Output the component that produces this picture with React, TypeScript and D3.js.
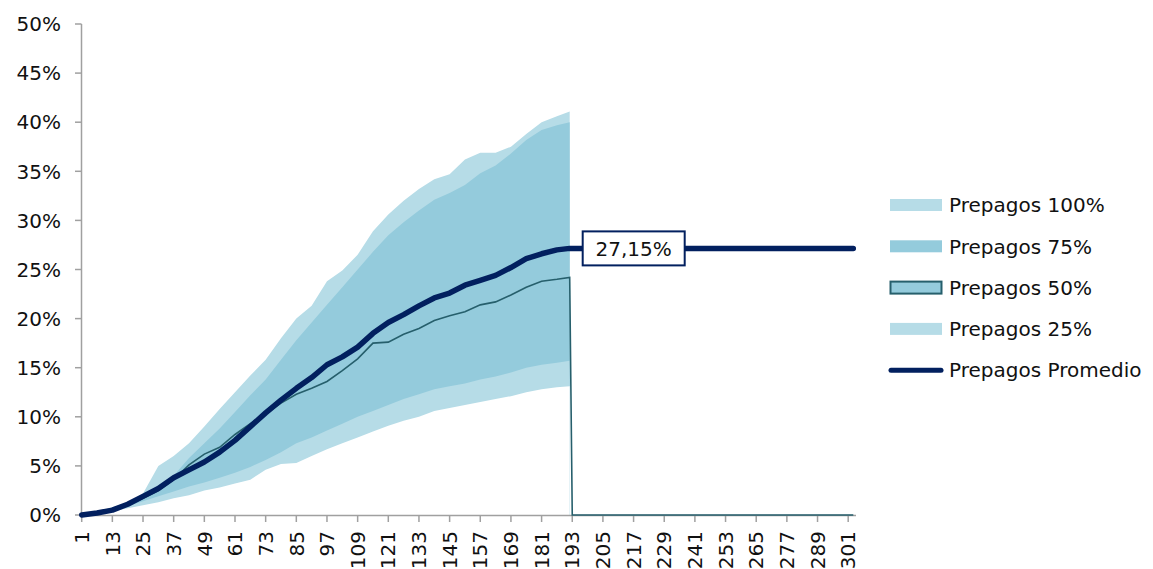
import { useRef, useEffect } from 'react';
import * as d3 from 'd3';

// sampled categories (months) where values were read
const categories = [1, 7, 13, 19, 25, 31, 37, 43, 49, 55, 61, 67, 73, 79, 85, 91, 97, 103, 109, 115, 121, 127, 133, 139, 145, 151, 157, 163, 169, 175, 181, 187, 192];

// values in %
const prepagos100 = [0, 0.3, 0.8, 1.3, 2.2, 5.0, 6.0, 7.3, 9.0, 10.8, 12.5, 14.2, 15.8, 18.0, 20.0, 21.3, 23.8, 24.9, 26.5, 28.9, 30.6, 32.0, 33.2, 34.2, 34.7, 36.2, 36.9, 36.9, 37.5, 38.8, 40.0, 40.6, 41.1];
const prepagos75 = [0, 0.2, 0.6, 1.1, 1.9, 2.8, 4.0, 5.8, 7.3, 8.8, 10.5, 12.2, 13.8, 15.8, 17.8, 19.6, 21.4, 23.2, 25.0, 26.8, 28.5, 29.8, 31.0, 32.1, 32.8, 33.6, 34.8, 35.6, 36.8, 38.2, 39.2, 39.7, 40.0];
const prepagos50 = [0, 0.2, 0.5, 1.0, 1.7, 2.5, 3.6, 5.1, 6.2, 6.9, 8.2, 9.3, 10.3, 11.4, 12.3, 12.9, 13.6, 14.7, 15.9, 17.5, 17.6, 18.4, 19.0, 19.8, 20.3, 20.7, 21.4, 21.7, 22.4, 23.2, 23.8, 24.0, 24.2];
const prepagos25 = [0, 0.15, 0.5, 0.9, 1.4, 1.9, 2.4, 2.9, 3.3, 3.8, 4.3, 4.9, 5.6, 6.4, 7.3, 7.9, 8.6, 9.3, 10.0, 10.6, 11.2, 11.8, 12.3, 12.8, 13.1, 13.4, 13.8, 14.1, 14.5, 15.0, 15.3, 15.5, 15.7];
// lower edge of the 25% band (hidden white series)
const prepagosMin = [0, 0.1, 0.4, 0.7, 1.0, 1.3, 1.7, 2.0, 2.5, 2.8, 3.2, 3.6, 4.6, 5.2, 5.3, 6.0, 6.7, 7.3, 7.9, 8.5, 9.1, 9.6, 10.0, 10.6, 10.9, 11.2, 11.5, 11.8, 12.1, 12.5, 12.8, 13.0, 13.1];
const prepagosPromedio = [0, 0.2, 0.5, 1.1, 1.9, 2.7, 3.8, 4.6, 5.4, 6.4, 7.6, 9.0, 10.4, 11.7, 12.9, 14.0, 15.3, 16.1, 17.1, 18.5, 19.6, 20.4, 21.3, 22.1, 22.6, 23.4, 23.9, 24.4, 25.2, 26.1, 26.6, 27.0, 27.15];

const lastCategory = 303;
const promedioFinal = 27.15;
const promedioLabel = '27,15%';

const xTicks = [1, 13, 25, 37, 49, 61, 73, 85, 97, 109, 121, 133, 145, 157, 169, 181, 193, 205, 217, 229, 241, 253, 265, 277, 289, 301];
const yTicks = [0, 5, 10, 15, 20, 25, 30, 35, 40, 45, 50];

const legendNames = ['Prepagos 100%', 'Prepagos 75%', 'Prepagos 50%', 'Prepagos 25%', 'Prepagos Promedio'];

const LIGHT = '#b6dce7';
const MEDIUM = '#94cbdc';
const TEAL = '#265f6c';
const NAVY = '#02205f';
const AXIS = '#a0a0a0';
const FONT = '"DejaVu Sans", Verdana, sans-serif';
const FONT_SIZE = '20px';

function Chart() {
    const ref = useRef<SVGSVGElement>(null);

    useEffect(() => {
        const svg = d3.select(ref.current);
        svg.selectAll('*').remove();

        const x = d3.scaleLinear().domain([1, lastCategory]).range([81.7, 853.3]);
        const y = d3.scaleLinear().domain([0, 50]).range([515, 24]);

        const area = (vals: number[]) =>
            d3.area<number>()
                .x((d, i) => x(categories[i]))
                .y0(y(0))
                .y1(d => y(d))(vals);

        svg.append('path').attr('d', area(prepagos100)).attr('fill', LIGHT);
        svg.append('path').attr('d', area(prepagos75)).attr('fill', MEDIUM);
        svg.append('path').attr('d', area(prepagos50)).attr('fill', MEDIUM);
        svg.append('path').attr('d', area(prepagos25)).attr('fill', LIGHT);
        svg.append('path').attr('d', area(prepagosMin)).attr('fill', 'white');

        // y axis
        const yAxis = svg.append('g');
        yAxis.append('line')
            .attr('x1', 81.5).attr('x2', 81.5)
            .attr('y1', y(50)).attr('y2', y(0))
            .attr('stroke', AXIS).attr('stroke-width', 1.5);
        yAxis.selectAll('.tick')
            .data(yTicks)
            .enter()
            .append('line')
            .attr('x1', 75).attr('x2', 81.5)
            .attr('y1', d => y(d)).attr('y2', d => y(d))
            .attr('stroke', AXIS).attr('stroke-width', 1.5);
        yAxis.selectAll('text')
            .data(yTicks)
            .enter()
            .append('text')
            .attr('x', 61)
            .attr('y', d => y(d))
            .attr('dy', '0.36em')
            .attr('text-anchor', 'end')
            .style('font-family', FONT)
            .style('font-size', FONT_SIZE)
            .style('fill', '#111')
            .text(d => `${d}%`);

        // x axis
        const xAxis = svg.append('g');
        xAxis.append('line')
            .attr('x1', 81).attr('x2', 856)
            .attr('y1', 515.5).attr('y2', 515.5)
            .attr('stroke', AXIS).attr('stroke-width', 1.5);
        xAxis.selectAll('.tick')
            .data(xTicks)
            .enter()
            .append('line')
            .attr('x1', d => x(d)).attr('x2', d => x(d))
            .attr('y1', 515.5).attr('y2', 522)
            .attr('stroke', AXIS).attr('stroke-width', 1.5);
        xAxis.selectAll('text')
            .data(xTicks)
            .enter()
            .append('text')
            .attr('transform', d => `translate(${x(d)}, 531) rotate(-90)`)
            .attr('dy', '0.36em')
            .attr('text-anchor', 'end')
            .style('font-family', FONT)
            .style('font-size', FONT_SIZE)
            .style('fill', '#111')
            .text(d => d);

        // 50% border line, dropping to zero after the last month
        const line = d3.line<[number, number]>().x(d => x(d[0])).y(d => y(d[1]));
        const p50Points: [number, number][] = categories.map((c, i) => [c, prepagos50[i]]);
        p50Points.push([categories[categories.length - 1] + 1, 0], [lastCategory, 0]);
        svg.append('path')
            .attr('d', line(p50Points))
            .attr('fill', 'none')
            .attr('stroke', TEAL)
            .attr('stroke-width', 1.6);

        const promPoints: [number, number][] = categories.map((c, i) => [c, prepagosPromedio[i]]);
        promPoints.push([lastCategory, promedioFinal]);
        svg.append('path')
            .attr('d', line(promPoints))
            .attr('fill', 'none')
            .attr('stroke', NAVY)
            .attr('stroke-width', 5.5)
            .attr('stroke-linecap', 'round')
            .attr('stroke-linejoin', 'round');

        // data label
        const lx = x(categories[categories.length - 1]) + 13;
        const ly = y(promedioFinal);
        svg.append('rect')
            .attr('x', lx).attr('y', ly - 17)
            .attr('width', 102).attr('height', 34)
            .attr('fill', 'white')
            .attr('stroke', NAVY)
            .attr('stroke-width', 2);
        svg.append('text')
            .attr('x', lx + 51).attr('y', ly)
            .attr('dy', '0.36em')
            .attr('text-anchor', 'middle')
            .style('font-family', FONT)
            .style('font-size', FONT_SIZE)
            .style('fill', '#111')
            .text(promedioLabel);

        // legend
        const legend = svg.append('g').attr('transform', 'translate(890, 205)');
        legendNames.forEach((name, i) => {
            const g = legend.append('g').attr('transform', `translate(0, ${i * 41.3})`);
            if (i === 4) {
                g.append('line')
                    .attr('x1', 1).attr('x2', 51).attr('y1', 0).attr('y2', 0)
                    .attr('stroke', NAVY).attr('stroke-width', 5).attr('stroke-linecap', 'round');
            } else if (i === 2) {
                g.append('rect')
                    .attr('x', 0.5).attr('y', -6).attr('width', 51).attr('height', 12)
                    .attr('fill', MEDIUM).attr('stroke', TEAL).attr('stroke-width', 2);
            } else {
                g.append('rect')
                    .attr('x', 0).attr('y', -6).attr('width', 52).attr('height', 12)
                    .attr('fill', i === 1 ? MEDIUM : LIGHT);
            }
            g.append('text')
                .attr('x', 59).attr('y', 0)
                .attr('dy', '0.36em')
                .style('font-family', FONT)
                .style('font-size', FONT_SIZE)
                .style('fill', '#111')
                .text(name);
        });
    }, []);

    return (
        <svg
            ref={ref}
            width={1153}
            height={569}
            style={{ position: 'absolute', left: 0, top: 0, display: 'block', background: 'white' }}
        />
    );
}

export default function App() {
    return <Chart />;
}
